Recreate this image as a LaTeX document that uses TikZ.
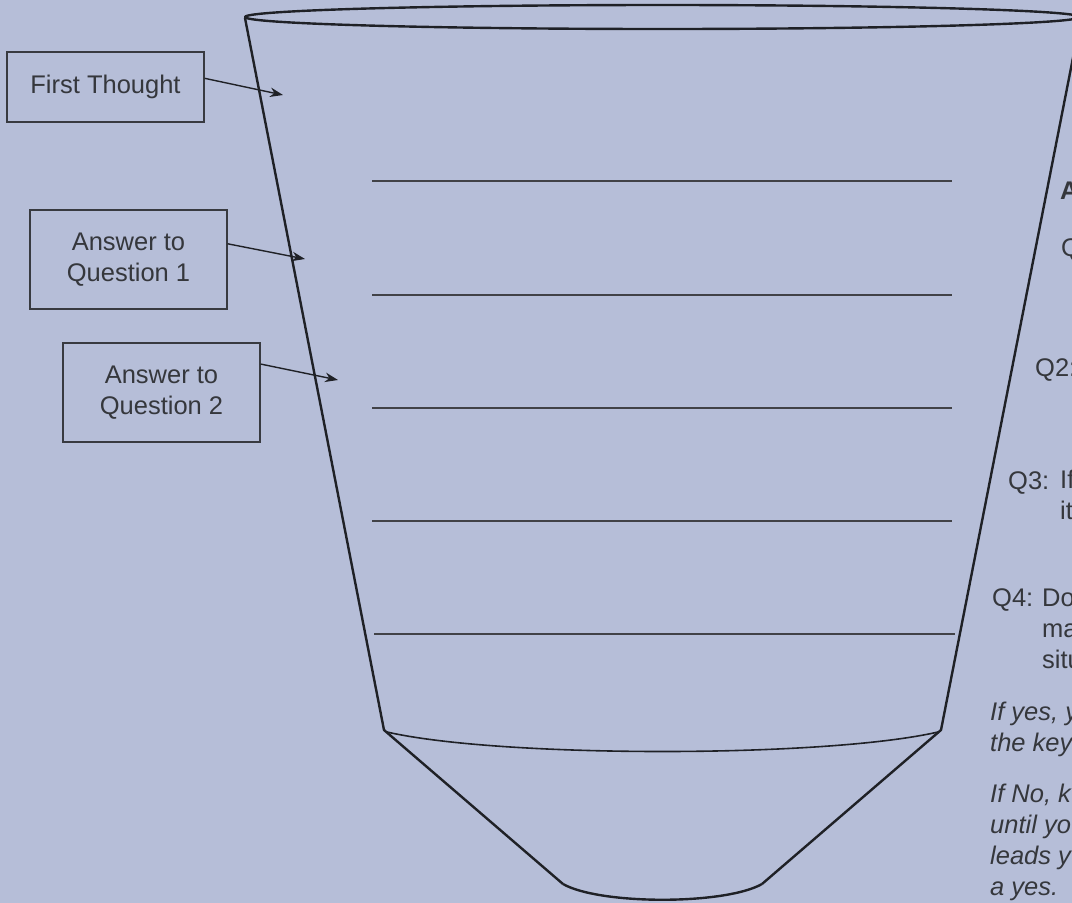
\documentclass[tikz,border=0pt]{standalone}
\usepackage{fontspec}
\setmainfont{Liberation Sans}
\usetikzlibrary{arrows.meta}
\definecolor{backdrop}{HTML}{B6BED8}
\definecolor{ink}{HTML}{1F2126}
\definecolor{boxline}{HTML}{383A40}

\begin{document}
\begin{tikzpicture}[x=1pt,y=-1pt]
    \tikzset{
      labelbox/.style={draw=boxline,line width=1.4pt,minimum width=197pt,minimum height=99pt,align=center,font=\fontsize{25.5}{31}\selectfont,text=ink!90,inner sep=0pt},
      rim/.style={draw=ink,line width=2.4pt,line join=round},
      level/.style={draw=ink!85,line width=1.6pt},
      pointer/.style={-{Stealth[length=13pt,width=9.5pt]},draw=ink,line width=1.4pt},
      sidetext/.style={anchor=base west,inner sep=0pt,align=left,font=\fontsize{25.5}{31}\selectfont,text=ink!90},
      sideitalic/.style={sidetext,font=\fontsize{25.5}{31}\selectfont\itshape}
    }
    \fill[backdrop] (0,0) rectangle (1072,903);
    \useasboundingbox (0,0) rectangle (1072,903);
    \clip (0,0) rectangle (1072,903);
    % funnel body
    \draw[rim] (662.5,17) ellipse [x radius=417.5, y radius=12];
    \draw[rim] (245,18) -- (384,730) -- (563,884);
    \draw[rim] (1081,17) -- (941,730) -- (762,884);
    \draw[rim,line width=1.6pt] (387,732) .. controls (500,758) and (825,758) .. (938,732);
    \draw[rim] (563,884) .. controls (600,905) and (725,905) .. (762,884);
    % answer levels
    \foreach \y in {181,295,408,521}
      \draw[level] (372,\y) -- (952,\y);
    \draw[level] (374,634) -- (955,634);
    % labels on the left
    \node[labelbox,minimum height=70pt] (firstbox) at (105.5,87) {First Thought};
    \node[labelbox] (answerone) at (128.5,259.5) {Answer to\\Question 1};
    \node[labelbox] (answertwo) at (161.5,392.5) {Answer to\\Question 2};
    \coordinate (firstpt) at (283,95);
    \coordinate (answeronept) at (305,259);
    \coordinate (answertwopt) at (338,380);
    \draw[pointer] (firstbox.5) -- (firstpt);
    \draw[pointer] (answerone.9.5) -- (answeronept);
    \draw[pointer] (answertwo.16.7) -- (answertwopt);
    % questions on the right (base = last line)
    \node[sidetext,font=\fontsize{25.5}{31}\selectfont\bfseries] (askhead) at (1060,199) {A};
    \node[sidetext] (qone) at (1061,256) {Q};
    \node[sidetext] (qtwo) at (1035,376) {Q2:};
    \node[sidetext] (qthree) at (1008,489) {Q3:};
    \node[sidetext] (qthreetext) at (1060,519) {If\\it};
    \node[sidetext] (qfour) at (992,606) {Q4:};
    \node[sidetext] (qfourtext) at (1042,668) {Do\\ma\\situ};
    \node[sideitalic] (ifyes) at (990,751) {If yes, y\\the key};
    \node[sideitalic] (ifno) at (990,895) {If No, k\\until yo\\leads y\\a yes.};
  \end{tikzpicture}
\end{document}
